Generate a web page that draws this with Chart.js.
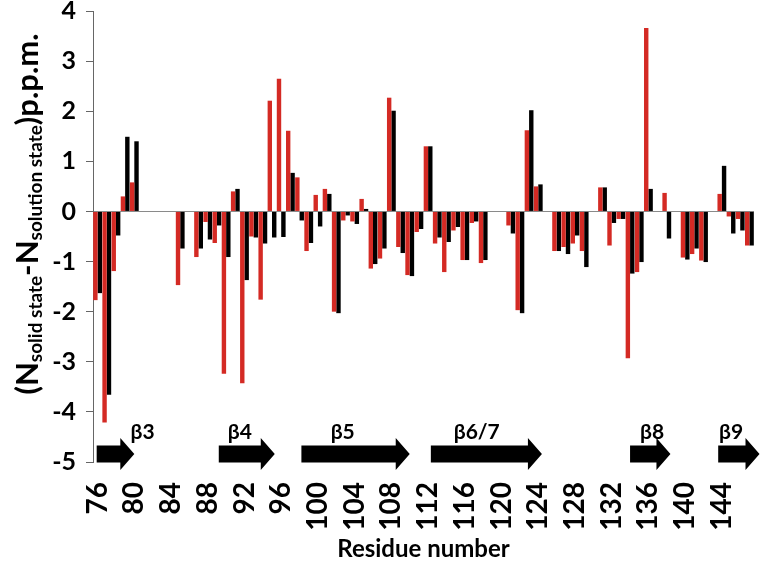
<!DOCTYPE html>
<html><head><meta charset="utf-8">
<script src="https://cdn.jsdelivr.net/npm/chart.js@4/dist/chart.umd.min.js"></script>
<style>html,body{margin:0;padding:0;background:#fff;}#wrap{width:762px;height:564px;position:relative;}</style>
</head><body><div id="wrap"><canvas id="c" width="762" height="564"></canvas></div>
<script>
const residues = [76,77,78,79,80,81,82,83,84,85,86,87,88,89,90,91,92,93,94,95,96,97,98,99,100,101,102,103,104,105,106,107,108,109,110,111,112,113,114,115,116,117,118,119,120,121,122,123,124,125,126,127,128,129,130,131,132,133,134,135,136,137,138,139,140,141,142,143,144,145,146,147];
const tickLabels = ['76','80','84','88','92','96','100','104','108','112','116','120','124','128','132','136','140','144'];
const redValues = [-1.77,-4.21,-1.19,0.30,0.58,null,null,null,null,-1.47,null,-0.91,-0.21,-0.63,-3.24,0.40,-3.43,-0.50,-1.76,2.21,2.65,1.61,0.68,-0.79,0.33,0.45,-2.00,-0.18,-0.20,0.25,-1.14,-0.94,2.27,-0.71,-1.27,-0.41,1.30,-0.64,-1.21,-0.38,-0.97,-0.23,-1.03,null,null,-0.28,-1.97,1.62,0.50,null,-0.79,-0.71,-0.64,-0.79,null,0.48,-0.68,-0.15,-2.93,-1.21,3.66,null,0.37,null,-0.92,-0.85,-0.98,null,0.35,-0.10,-0.15,-0.68];
const blackValues = [-1.63,-3.66,-0.48,1.49,1.40,null,null,null,null,-0.74,null,-0.74,-0.56,-0.28,-0.91,0.45,-1.37,-0.52,-0.64,-0.52,-0.51,0.77,-0.18,-0.63,-0.30,0.35,-2.03,-0.08,-0.25,0.05,-1.05,-0.74,2.01,-0.83,-1.29,-0.35,1.30,-0.52,-0.61,-0.31,-0.97,-0.20,-0.97,null,null,-0.44,-2.03,2.02,0.54,null,-0.79,-0.85,-0.48,-1.11,null,0.48,-0.23,-0.15,-1.24,-1.01,0.45,null,-0.54,null,-0.96,-0.74,-1.01,null,0.91,-0.44,-0.38,-0.68];
const strandNames = ['β3','β4','β5','β6/7','β8','β9'];
const strandStart = [75.9, 89.2, 98.2, 112.3, 134.0, 143.6];
const strandEnd = [80.0, 95.3, 110.0, 124.4, 138.4, 148.1];
const strandLabelAt = [80.9, 91.5, 102.7, 117.3, 136.4, 145.0];

const FONT = 'Lato';
const RED = '#d42a24';

const strandPlugin = {
  id: 'strands',
  afterDatasetsDraw(chart) {
    const {ctx, scales: {x, y}} = chart;
    const yc = y.getPixelForValue(-4.84);
    const bh = 8.5, hh = 16, hl = 14;
    ctx.save();
    ctx.fillStyle = '#000';
    for (let i = 0; i < strandNames.length; i++) {
      const x0 = x.getPixelForValue(strandStart[i] - residues[0]);
      const x1 = x.getPixelForValue(strandEnd[i] - residues[0]);
      ctx.beginPath();
      ctx.moveTo(x0, yc - bh);
      ctx.lineTo(x1 - hl, yc - bh);
      ctx.lineTo(x1 - hl, yc - hh);
      ctx.lineTo(x1, yc);
      ctx.lineTo(x1 - hl, yc + hh);
      ctx.lineTo(x1 - hl, yc + bh);
      ctx.lineTo(x0, yc + bh);
      ctx.closePath();
      ctx.fill();
      ctx.font = 'bold 21px ' + FONT;
      ctx.textAlign = 'center';
      ctx.textBaseline = 'middle';
      ctx.fillText(strandNames[i], x.getPixelForValue(strandLabelAt[i] - residues[0]), y.getPixelForValue(-4.41));
    }
    ctx.restore();
  }
};

const yTitlePlugin = {
  id: 'ytitle',
  afterDraw(chart) {
    const {ctx} = chart;
    const big = 'bold 31px ' + FONT, small = 'bold 19px ' + FONT;
    const parts = [['(N', big, 0], ['solid state', small, 8], ['-N', big, 0], ['solution state', small, 8], [')p.p.m.', big, 0]];
    ctx.save();
    let total = 0;
    parts.forEach(p => { ctx.font = p[1]; total += ctx.measureText(p[0]).width; });
    ctx.translate(28, 214);
    ctx.rotate(-Math.PI / 2);
    ctx.fillStyle = '#000';
    ctx.textBaseline = 'middle';
    ctx.textAlign = 'left';
    let cx = -total / 2;
    parts.forEach(p => { ctx.font = p[1]; ctx.fillText(p[0], cx, p[2]); cx += ctx.measureText(p[0]).width; });
    ctx.restore();
  }
};

new Chart(document.getElementById('c'), {
  type: 'bar',
  data: {
    labels: residues.map(String),
    datasets: [
      {label: 'Series 1', data: redValues, backgroundColor: RED, categoryPercentage: 0.96, barPercentage: 1.0},
      {label: 'Series 2', data: blackValues, backgroundColor: '#000', categoryPercentage: 0.96, barPercentage: 1.0}
    ]
  },
  options: {
    responsive: false,
    animation: false,
    layout: {padding: {left: 0, right: 8, top: 11, bottom: 0}},
    plugins: {legend: {display: false}, tooltip: {enabled: false}},
    scales: {
      x: {
        grid: {display: false},
        border: {display: false},
        ticks: {
          autoSkip: false, maxRotation: 90, minRotation: 90, padding: 12, color: '#000',
          font: {family: FONT, weight: 'bold', size: 28},
          callback: function (v, i) { const s = String(residues[i]); return tickLabels.includes(s) ? s : ''; }
        },
        title: {display: true, text: 'Residue number', color: '#000', font: {family: FONT, weight: 'bold', size: 24}, padding: {top: 0, bottom: 0}},
        afterFit: s => { s.height = 102; s.paddingLeft = 0; s.paddingRight = 0; }
      },
      y: {
        min: -5, max: 4,
        ticks: {stepSize: 1, color: '#000', padding: 10, font: {family: FONT, weight: 'bold', size: 25}},
        grid: {
          drawOnChartArea: true,
          color: c => (c.tick && c.tick.value === 0) ? '#8a8a8a' : 'rgba(0,0,0,0)',
          tickColor: '#666', tickLength: 7, lineWidth: 1
        },
        border: {display: true, color: '#666', width: 1},
        afterFit: s => { s.width = 93; s.paddingTop = 0; s.paddingBottom = 0; }
      }
    }
  },
  plugins: [strandPlugin, yTitlePlugin]
});
</script></body></html>
